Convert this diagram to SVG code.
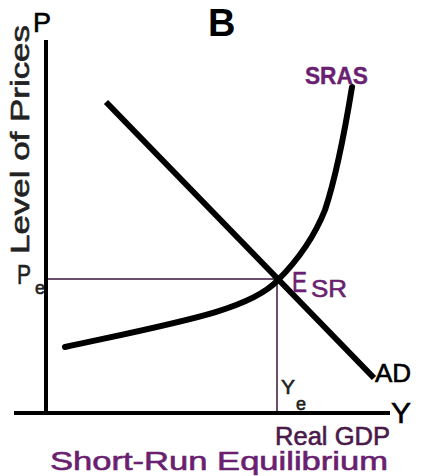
<svg xmlns="http://www.w3.org/2000/svg" width="427" height="476" viewBox="0 0 427 476">
<style>
text{font-family:"Liberation Sans",Arial,sans-serif}
.heavy{stroke-width:0.6}
.axis{stroke:#000;stroke-width:4;fill:none}
.guide{stroke:#6b4e6b;stroke-width:2;fill:none}
.curve{stroke:#000;stroke-width:6;fill:none;stroke-linecap:round}
.purple{fill:#6a1f70;stroke:#6a1f70}
.dark{fill:#222;stroke:#222}
.black{fill:#000;stroke:#000}
</style>
<rect width="427" height="476" fill="#fff"/>
<g id="axes">
<line class="axis" x1="46" y1="40" x2="46" y2="415"/>
<line class="axis" x1="14" y1="413" x2="390" y2="413"/>
</g>
<g id="connectors">
<line class="guide" x1="48" y1="279" x2="277" y2="279"/>
<line class="guide" x1="277" y1="279" x2="277" y2="411"/>
<path id="sras-curve" class="curve" d="M65,347 C180,322 250,310 278,280 C300,258 315,235 325,210 C335,180 345,130 352,87"/>
<line id="ad-curve" class="curve" style="stroke-linecap:butt" x1="106" y1="102" x2="374" y2="378"/>
</g>
<g id="title">
<text x="208" y="36" font-size="38" font-weight="bold" fill="#000">B</text>
</g>
<g id="p-label">
<text class="black heavy" x="33" y="32" font-size="27" stroke-width="0.5">P</text>
</g>
<g id="y-axis-label">
<text class="dark heavy" transform="translate(29,254) rotate(-90)" font-size="25" textLength="229" lengthAdjust="spacingAndGlyphs">Level of Prices</text>
</g>
<g id="sras-label">
<text class="purple" x="305" y="84" font-size="23" font-weight="bold" stroke-width="0.4" textLength="63" lengthAdjust="spacingAndGlyphs">SRAS</text>
</g>
<g id="pe-label">
<text class="dark heavy" x="17" y="284" font-size="28" textLength="14" lengthAdjust="spacingAndGlyphs">P</text>
<text class="dark heavy" x="35" y="294" font-size="18">e</text>
</g>
<g id="esr-label">
<text class="purple heavy" x="292" y="292" font-size="30" textLength="15" lengthAdjust="spacingAndGlyphs">E</text>
<text class="purple heavy" x="311" y="297" font-size="24" textLength="36" lengthAdjust="spacingAndGlyphs">SR</text>
</g>
<g id="ad-label">
<text class="black heavy" x="375" y="382" font-size="26">AD</text>
</g>
<g id="ye-label">
<text class="dark heavy" x="281" y="394" font-size="21">Y</text>
<text class="dark heavy" x="296" y="410" font-size="18">e</text>
</g>
<g id="y-label">
<text class="black heavy" x="391" y="423" font-size="30">Y</text>
</g>
<g id="x-axis-label">
<text class="heavy" x="275" y="445" font-size="25" fill="#4a1a4a" stroke="#4a1a4a" textLength="115" lengthAdjust="spacingAndGlyphs">Real GDP</text>
</g>
<g id="caption">
<text class="purple heavy" x="50" y="470" font-size="25" textLength="338" lengthAdjust="spacingAndGlyphs">Short-Run Equilibrium</text>
</g>
</svg>
